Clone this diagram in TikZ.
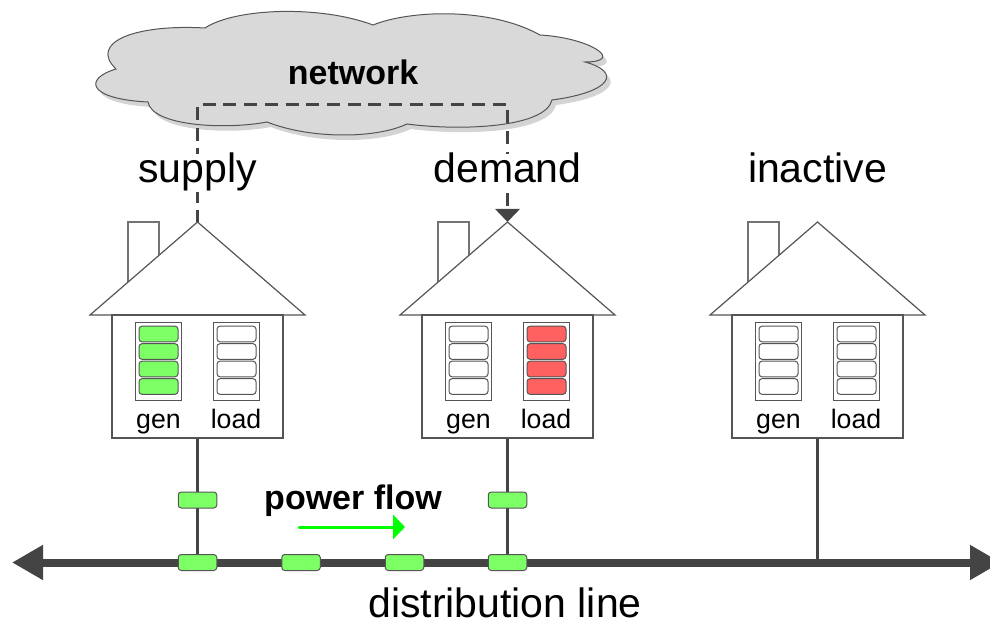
\documentclass[tikz,border=0pt]{standalone}
\usepackage{fontspec}
\setmainfont{Liberation Sans}
\usetikzlibrary{arrows.meta}
\definecolor{dk}{HTML}{444444}
\definecolor{edge}{HTML}{555555}
\definecolor{grn}{HTML}{7DFF66}
\definecolor{rd}{HTML}{FF6060}
\tikzset{x=1pt,y=-1pt,
 cell/.style={draw=edge,line width=1pt,rounded corners=3pt,minimum width=39pt,minimum height=15.6pt,inner sep=0pt},
 panel/.style={draw=edge,line width=1pt,fill=white,minimum width=46.5pt,minimum height=78pt,inner sep=0pt},
 packet/.style={draw=edge,line width=1pt,fill=grn,rounded corners=3pt,minimum width=38.5pt,minimum height=16pt,inner sep=0pt},
 small/.style={font=\fontsize{26.7}{30}\selectfont,anchor=base,inner sep=0pt},
 big/.style={font=\fontsize{41}{46}\selectfont,anchor=base,inner sep=0pt},
 bold/.style={font=\fontsize{34}{38}\selectfont\bfseries,anchor=base,inner sep=0pt},
 wire/.style={draw=dk,line width=3.5pt},
 ctrl/.style={draw=dk,line width=3.4pt,dash pattern=on 13pt off 7.7pt,dash phase=1.5pt},
}
\newcommand{\cloudpath}{(205,28) .. controls (235,8) and (320,5) .. (373,25)
 .. controls (410,10) and (490,7) .. (540,35)
 .. controls (592,38) and (625,62) .. (585,62)
 .. controls (622,72) and (612,92) .. (552,100)
 .. controls (545,128) and (460,131) .. (407,124)
 .. controls (375,139) and (310,139) .. (267,122)
 .. controls (225,130) and (152,126) .. (148,102)
 .. controls (88,99) and (83,79) .. (116,69)
 .. controls (88,42) and (136,24) .. (205,28) -- cycle}
\newcommand{\house}[4]{%
 \begin{scope}[xshift=#2pt]
 \coordinate (#1apex) at (197.5,222);
 \draw[draw=gray!90!black,line width=1.3pt,fill=white] (128,222) rectangle (159,285);
 \draw[draw=edge,line width=1.2pt,fill=white] (#1apex) -- (90,315) -- (305,315) -- cycle;
 \node[draw=edge,line width=1.2pt,fill=white,minimum width=171pt,minimum height=123pt,inner sep=0pt] (#1body) at (197.5,376.5) {};
 \node[panel] (#1gen) at (158.5,361) {};
 \node[panel] (#1load) at (236.5,361) {};
 \foreach \i/\yy in {1/334,2/351.5,3/369,4/386.5}{
  \node[cell,fill=#3] (#1g\i) at (158.5,\yy) {};
  \node[cell,fill=#4] (#1l\i) at (236.5,\yy) {};
 }
 \node[small] (#1gt) at (158.5,428.5) {gen};
 \node[small] (#1lt) at (236,428.5) {load};
 \coordinate (#1bus) at (197.5,563);
 \end{scope}}
\begin{document}
\begin{tikzpicture}
\useasboundingbox (0,0) rectangle (990,620);
% cloud
\fill[black!17,xshift=4pt,yshift=-5pt] \cloudpath;
\draw[draw=edge,line width=1pt,fill=black!15] \cloudpath;
\node[bold] (net) at (353,85) {network};
% houses
\house{a}{0}{grn}{white}
\house{b}{310}{white}{rd}
\house{c}{620}{white}{white}
% control path
\coordinate (ca) at (197.5,104.5);
\coordinate (cb) at (507.5,104.5);
\draw[ctrl,-{Triangle[length=13pt,width=24pt,sep=0pt]}] (aapex) -- (ca) -- (cb) -- (bapex);
\node[big,fill=white,text height=29pt,text depth=9pt] (sup) at (197.5,183) {supply};
\node[big,fill=white,text height=29pt,text depth=9pt] (dem) at (507.5,183) {demand};
\node[big] (ina) at (817.5,183) {inactive};
% bus
\coordinate (busL) at (12,562.5);
\coordinate (busR) at (1001,562.5);
\draw[wire] (abody.south) -- (abus);
\draw[wire] (bbody.south) -- (bbus);
\draw[draw=dk,line width=3pt] (cbody.south) -- (cbus);
\draw[draw=dk,line width=8pt,{Triangle[length=31pt,width=33pt]}-{Triangle[length=31pt,width=33pt]}] (busL) -- (busR);
\node[packet] (p1) at (197.5,500) {};
\node[packet] (p2) at (507.5,500) {};
\node[packet] (p3) at (197.5,562.5) {};
\node[packet] (p4) at (301,562.5) {};
\node[packet] (p5) at (404.5,562.5) {};
\node[packet] (p6) at (507.5,562.5) {};
% labels
\node[bold] (pf) at (353,509) {power flow};
\coordinate (fa) at (299,527);
\coordinate (fb) at (405,527);
\draw[draw=green,line width=3pt,line cap=round,-{Triangle[length=12pt,width=24pt]}] (fa) -- (fb);
\node[big] (dl) at (505,617) {distribution line};
\end{tikzpicture}
\end{document}
